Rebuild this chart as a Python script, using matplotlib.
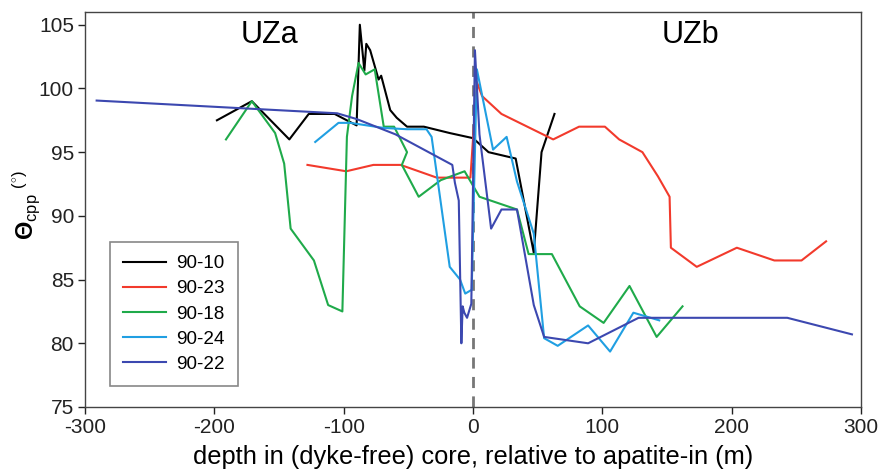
import matplotlib
matplotlib.use("Agg")
import matplotlib.pyplot as plt

plt.rcParams['font.family'] = ['Liberation Sans', 'DejaVu Sans']
plt.rcParams['mathtext.fontset'] = 'custom'
plt.rcParams['mathtext.rm'] = 'Liberation Sans'
plt.rcParams['mathtext.bf'] = 'Liberation Sans:bold'
plt.rcParams['mathtext.it'] = 'Liberation Sans:italic'
plt.rcParams['axes.unicode_minus'] = False

# ---- data ----
x_9010 = [-198, -171, -142, -127, -107, -90, -87.5, -84, -82.5, -79.5, -73, -71, -64, -59, -51, -38, -18, 0, 12, 33, 47, 53, 63]
y_9010 = [97.5, 99.0, 96.0, 98.0, 98.0, 97.1, 105.0, 101.4, 103.5, 103.0, 100.7, 101.0, 98.3, 97.7, 97.0, 97.0, 96.5, 96.1, 95.0, 94.5, 87.1, 95.0, 98.0]

x_9023 = [-128, -98, -77, -56, -28, -2, 3, 7, 22, 62, 82, 102, 113, 131, 143, 152, 153, 173, 204, 233, 254, 273]
y_9023 = [94.0, 93.5, 94.0, 94.0, 93.0, 93.0, 100.5, 99.4, 98.0, 96.0, 97.0, 97.0, 96.0, 95.0, 93.1, 91.5, 87.5, 86.0, 87.5, 86.5, 86.5, 88.0]

x_9018 = [-191, -171, -153, -146, -141, -123, -112, -101, -97.5, -93.5, -88.5, -83, -76, -69, -61, -51, -55, -42, -25, -6.5, 5, 34, 43, 61, 82.5, 101, 121, 142, 162]
y_9018 = [96.0, 99.0, 96.5, 94.1, 89.0, 86.5, 83.0, 82.5, 96.2, 99.4, 102.0, 101.1, 101.5, 97.0, 97.0, 95.0, 94.0, 91.5, 92.8, 93.5, 91.5, 90.5, 87.0, 87.0, 82.9, 81.6, 84.5, 80.5, 82.9]

x_9024 = [-122, -104, -95, -69, -51, -36, -32, -18, -10, -6, -1, 3, 15.5, 26, 34, 47, 55, 65.5, 89, 106, 124, 144]
y_9024 = [95.8, 97.3, 97.3, 96.9, 96.8, 96.8, 96.2, 86.0, 85.0, 83.9, 84.2, 101.5, 95.2, 96.2, 92.7, 88.6, 80.4, 79.8, 81.4, 79.35, 82.4, 81.8]

x_9022 = [-291, -105, -90, -60, -16, -14, -11, -9, -8, -6.7, -4.6, -1.3, 1.5, 5, 14, 22, 34, 47, 55, 89, 128, 243, 293]
y_9022 = [99.05, 98.05, 97.6, 96.4, 94.0, 92.6, 91.2, 80.0, 82.9, 82.4, 82.0, 83.1, 103.0, 96.4, 89.0, 90.5, 90.5, 83.0, 80.5, 80.0, 82.0, 82.0, 80.7]

x_ticks = [-300, -200, -100, 0, 100, 200, 300]
y_ticks = [75, 80, 85, 90, 95, 100, 105]

series = [
    ("90-10", x_9010, y_9010, "#000000"),
    ("90-23", x_9023, y_9023, "#f23a2c"),
    ("90-18", x_9018, y_9018, "#1faa4a"),
    ("90-24", x_9024, y_9024, "#209fe2"),
    ("90-22", x_9022, y_9022, "#3c48b0"),
]

fig = plt.figure(figsize=(8.8, 4.74), dpi=100)
ax = fig.add_axes([85/880, 1-407/474, 776/880, 395/474])

ax.axvline(0, color="#777777", lw=2, ls=(0, (4, 3)), zorder=1)

for name, xs, ys, c in series:
    ax.plot(xs, ys, color=c, lw=1.5, label=name, zorder=2)

ax.set_xlim(-300, 300)
ax.set_ylim(75, 106)
ax.set_xticks(x_ticks)
ax.set_yticks(y_ticks)
ax.tick_params(direction='out', length=5, width=1, labelsize=15, colors='#222222', pad=3)
for s in ax.spines.values():
    s.set_color('#444444')
    s.set_linewidth(1)

ax.set_xlabel("depth in (dyke-free) core, relative to apatite-in (m)", fontsize=18.3, labelpad=6)
fig.text(26/880, 1-205/474, r'$\mathbf{\Theta}_{\mathrm{cpp}}\;^{(^{\circ})}$', fontsize=17,
         rotation=90, ha='center', va='center')

ax.text(-157, 104.2, "UZa", fontsize=22, ha='center', va='center')
ax.text(168, 104.2, "UZb", fontsize=22, ha='center', va='center')

leg = ax.legend(loc='lower left', bbox_to_anchor=(0.032, 0.053), borderaxespad=0,
                fontsize=13.6, handlelength=2.3, labelspacing=0.42, fancybox=False,
                edgecolor='#888888', framealpha=1, borderpad=0.7, handletextpad=0.5)
leg.get_frame().set_linewidth(1.2)

fig.savefig("out.png", dpi=100)
